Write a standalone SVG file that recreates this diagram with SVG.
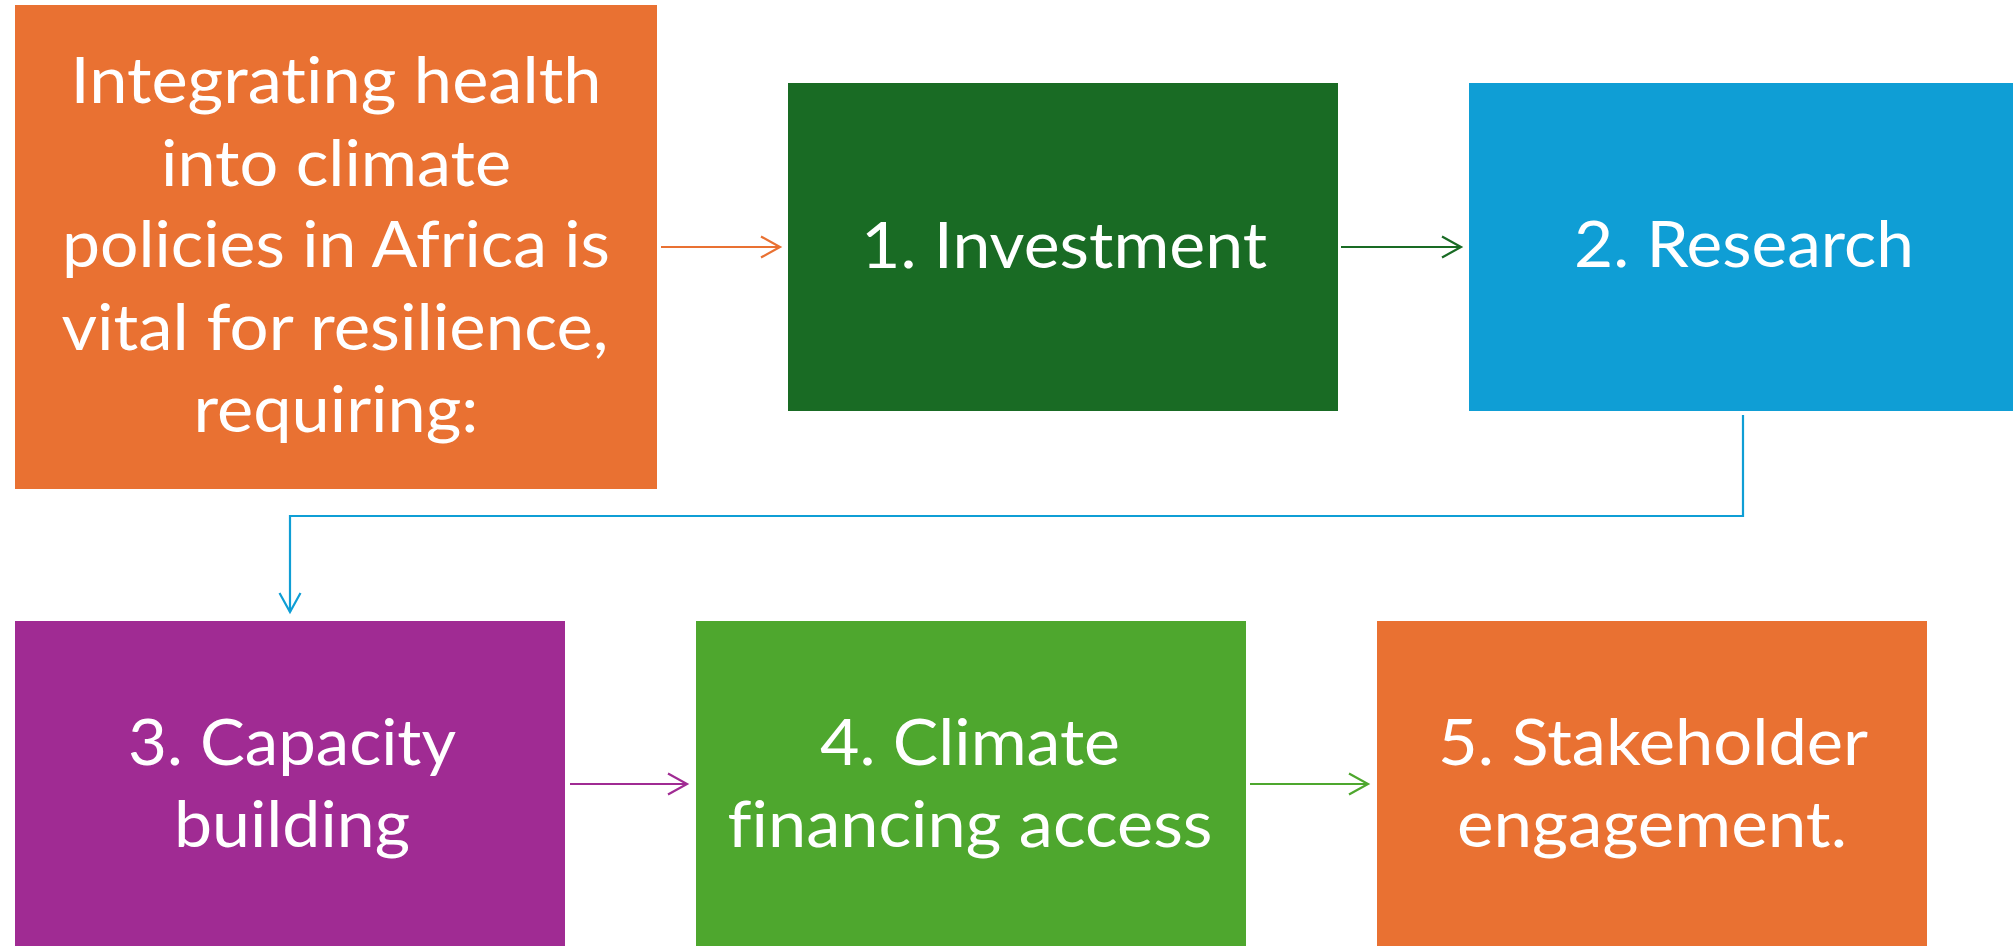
<svg xmlns="http://www.w3.org/2000/svg" width="2013" height="946" viewBox="0 0 2013 946">
<style>
  .t { font-family: Lato, "Open Sans", "Liberation Sans", sans-serif; font-size: 64px; fill: #ffffff; text-anchor: middle; font-variant-ligatures: none; }
  .c { fill: none; stroke-width: 2.2; }
</style>
<defs>
  <marker id="mO" markerUnits="userSpaceOnUse" markerWidth="24" markerHeight="26" refX="21" refY="12" orient="auto"><path d="M2,1.5 L21,12 L2,22.5" fill="none" stroke="#E97132" stroke-width="2.2"/></marker>
  <marker id="mD" markerUnits="userSpaceOnUse" markerWidth="24" markerHeight="26" refX="21" refY="12" orient="auto"><path d="M2,1.5 L21,12 L2,22.5" fill="none" stroke="#196B24" stroke-width="2.2"/></marker>
  <marker id="mB" markerUnits="userSpaceOnUse" markerWidth="24" markerHeight="26" refX="21" refY="12" orient="auto"><path d="M2,1.5 L21,12 L2,22.5" fill="none" stroke="#0F9ED5" stroke-width="2.2"/></marker>
  <marker id="mP" markerUnits="userSpaceOnUse" markerWidth="24" markerHeight="26" refX="21" refY="12" orient="auto"><path d="M2,1.5 L21,12 L2,22.5" fill="none" stroke="#A02B93" stroke-width="2.2"/></marker>
  <marker id="mG" markerUnits="userSpaceOnUse" markerWidth="24" markerHeight="26" refX="21" refY="12" orient="auto"><path d="M2,1.5 L21,12 L2,22.5" fill="none" stroke="#4EA72E" stroke-width="2.2"/></marker>
</defs>
<rect width="2013" height="946" fill="#ffffff"/>
<g id="node-intro">
  <rect x="15" y="5" width="642" height="484" fill="#E97132"/>
  <text class="t" x="336" y="103" textLength="531" lengthAdjust="spacingAndGlyphs">Integrating health</text>
  <text class="t" x="336" y="186" textLength="350" lengthAdjust="spacingAndGlyphs">into climate</text>
  <text class="t" x="336" y="267" textLength="548" lengthAdjust="spacingAndGlyphs">policies in Africa is</text>
  <text class="t" x="335" y="350" textLength="547" lengthAdjust="spacingAndGlyphs">vital for resilience,</text>
  <text class="t" x="336" y="432" textLength="285" lengthAdjust="spacingAndGlyphs">requiring:</text>
</g>
<g id="node-investment">
  <rect x="788" y="83" width="550" height="328" fill="#196B24"/>
  <text class="t" x="1064" y="268" textLength="406" lengthAdjust="spacingAndGlyphs">1. Investment</text>
</g>
<g id="node-research">
  <rect x="1469" y="83" width="550" height="328" fill="#0F9ED5"/>
  <text class="t" x="1744" y="267" textLength="340" lengthAdjust="spacingAndGlyphs">2. Research</text>
</g>
<g id="node-capacity">
  <rect x="15" y="621" width="550" height="330" fill="#A02B93"/>
  <text class="t" x="292" y="765" textLength="328" lengthAdjust="spacingAndGlyphs">3. Capacity</text>
  <text class="t" x="292" y="847" textLength="236" lengthAdjust="spacingAndGlyphs">building</text>
</g>
<g id="node-financing">
  <rect x="696" y="621" width="550" height="330" fill="#4EA72E"/>
  <text class="t" x="970" y="765" textLength="300" lengthAdjust="spacingAndGlyphs">4. Climate</text>
  <text class="t" x="970" y="847" textLength="485" lengthAdjust="spacingAndGlyphs">financing access</text>
</g>
<g id="node-stakeholder">
  <rect x="1377" y="621" width="550" height="330" fill="#E97132"/>
  <text class="t" x="1653" y="765" textLength="430" lengthAdjust="spacingAndGlyphs">5. Stakeholder</text>
  <text class="t" x="1652" y="847" textLength="390" lengthAdjust="spacingAndGlyphs">engagement.</text>
</g>
<g id="connectors">
  <path class="c" d="M661,247 H780" stroke="#E97132" marker-end="url(#mO)"/>
  <path class="c" d="M1341,247 H1461" stroke="#196B24" marker-end="url(#mD)"/>
  <path class="c" d="M1743,415 V516 H290 V612" stroke="#0F9ED5" marker-end="url(#mB)"/>
  <path class="c" d="M570,784 H687" stroke="#A02B93" marker-end="url(#mP)"/>
  <path class="c" d="M1250,784 H1368" stroke="#4EA72E" marker-end="url(#mG)"/>
</g>
</svg>
